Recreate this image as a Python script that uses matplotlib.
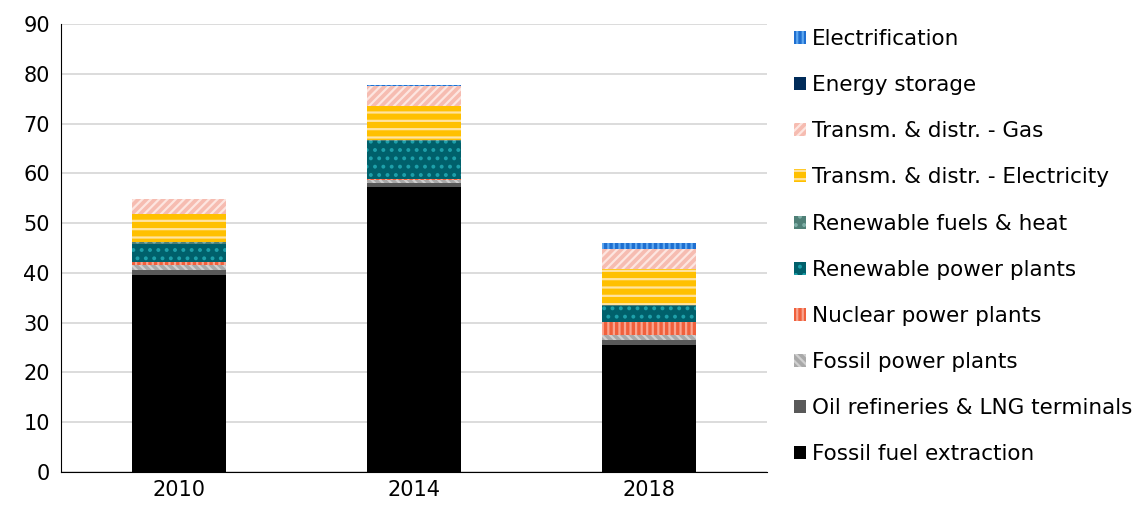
import matplotlib
matplotlib.use("Agg")
import matplotlib.pyplot as plt
import numpy as np

years = ["2010", "2014", "2018"]
series_names = [
    "Fossil fuel extraction",
    "Oil refineries & LNG terminals",
    "Fossil power plants",
    "Nuclear power plants",
    "Renewable power plants",
    "Renewable fuels & heat",
    "Transm. & distr. - Electricity",
    "Transm. & distr. - Gas",
    "Energy storage",
    "Electrification",
]
fossil_extraction = [39.6, 57.3, 25.6]
oil_refineries = [1.0, 0.7, 1.0]
fossil_power = [1.0, 0.7, 1.0]
nuclear = [0.6, 0.1, 2.6]
renewable_power = [3.7, 7.7, 3.2]
renewable_fuels = [0.3, 0.2, 0.2]
td_electricity = [5.6, 6.8, 7.2]
td_gas = [3.0, 4.0, 4.0]
energy_storage = [0.0, 0.1, 0.0]
electrification = [0.0, 0.1, 1.3]

values = [fossil_extraction, oil_refineries, fossil_power, nuclear,
          renewable_power, renewable_fuels, td_electricity, td_gas,
          energy_storage, electrification]

# (facecolor, hatchcolor, hatch)
styles = [
    ("#000000", "#000000", None),
    ("#595959", "#6a6a6a", None),
    ("#a9a9a9", "#cfcfcf", "\\\\\\\\"),
    ("#f0603c", "#f9a48e", "|||"),
    ("#00606b", "#1ea0aa", ".."),
    ("#4f8077", "#7fb0a8", ".."),
    ("#ffc000", "#ffe3a0", "--"),
    ("#f6bcb1", "#fde5e0", "////"),
    ("#002b59", "#002b59", None),
    ("#1f6fd0", "#5ea8f0", "|||"),
]

plt.rcParams['hatch.linewidth'] = 1.6
fig = plt.figure(figsize=(11.41, 5.12), dpi=100)
ax = fig.add_axes([61/1141, 1-472/512, (767-61)/1141, (472-24)/512])

x = np.arange(len(years))
bottom = np.zeros(len(years))
handles = []
for name, vals, (fc, hc, h) in zip(series_names, values, styles):
    vals = np.array(vals)
    b = ax.bar(x, vals, 0.40, bottom=bottom, facecolor=fc, edgecolor=hc,
               hatch=h, linewidth=0, label=name, zorder=3)
    handles.append(b)
    bottom += vals

ax.set_xlim(-0.5, 2.5)
ax.set_ylim(0, 90)
ax.set_yticks(np.arange(0, 91, 10))
ax.set_xticks(x)
ax.set_xticklabels(years)
ax.grid(axis='y', color='#d9d9d9', linewidth=1.3, zorder=0)
for s in ['top', 'right']:
    ax.spines[s].set_visible(False)
ax.spines['left'].set_color('#000000')
ax.spines['bottom'].set_color('#000000')
ax.tick_params(axis='both', length=0, labelsize=15, pad=6)
ax.tick_params(axis='y', pad=8)

leg = ax.legend(handles[::-1], series_names[::-1], loc='upper left',
                bbox_to_anchor=(1.026, 1.008), frameon=False, fontsize=15.5,
                handlelength=0.55, handleheight=0.55, handletextpad=0.3,
                labelspacing=1.215, borderaxespad=0)

fig.savefig("out.png", dpi=100)
